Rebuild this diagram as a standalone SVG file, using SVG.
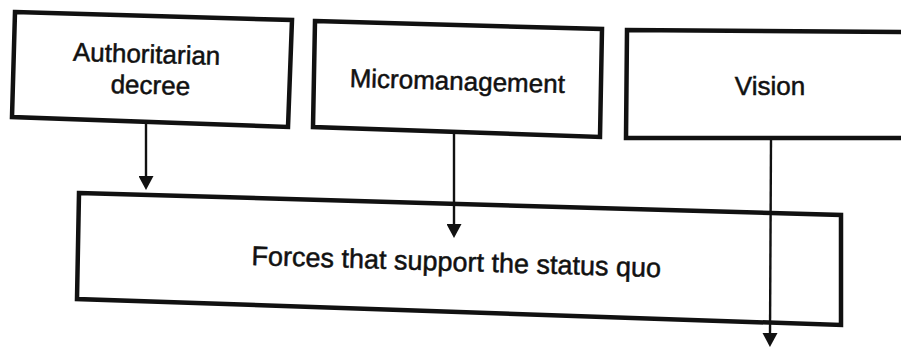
<svg xmlns="http://www.w3.org/2000/svg" width="901" height="348" viewBox="0 0 901 348">
  <style>
    .box { fill: #ffffff; stroke: #111111; stroke-width: 4.5; stroke-linejoin: miter; }
    .label { font-family: "Liberation Sans", Arial, Helvetica, sans-serif; font-size: 26px; fill: #111111; stroke: #111111; stroke-width: 0.5; text-anchor: middle; }
    .conn { stroke: #111111; stroke-width: 2.4; fill: none; marker-end: url(#arrow); }
  </style>
  <defs>
    <marker id="arrow" markerUnits="userSpaceOnUse" markerWidth="15" markerHeight="15" viewBox="0 0 14 15" refX="3" refY="7.5" orient="auto">
      <path d="M0,0 L14,7.5 L0,15 Z" fill="#111111"/>
    </marker>
  </defs>
  <rect width="901" height="348" fill="#ffffff"/>

  <g id="node-authoritarian-decree">
    <polygon class="box" points="15,12 292,20 288,127 12,117"/>
    <text class="label" transform="rotate(1.6 150 63)">
      <tspan x="150" y="63">Authoritarian</tspan>
      <tspan x="151" y="94">decree</tspan>
    </text>
  </g>

  <g id="node-micromanagement">
    <polygon class="box" points="315,21 602,29 600,137 313,127"/>
    <text class="label" x="457" y="90" transform="rotate(1.6 457 90)">Micromanagement</text>
  </g>

  <g id="node-vision">
    <polyline class="box" points="910,32 627,30 626,138 910,138"/>
    <text class="label" x="770" y="95">Vision</text>
  </g>

  <g id="node-forces-status-quo">
    <polygon class="box" points="79,193 841,215 841,325 77,299"/>
    <text class="label" x="456" y="271" transform="rotate(1.7 456 271)" style="font-size:27px">Forces that support the status quo</text>
  </g>

  <g id="connectors">
    <line class="conn" x1="146" y1="122" x2="146" y2="179"/>
    <line class="conn" x1="454" y1="134" x2="454" y2="227"/>
    <line class="conn" x1="771" y1="139" x2="770" y2="336"/>
  </g>
</svg>
